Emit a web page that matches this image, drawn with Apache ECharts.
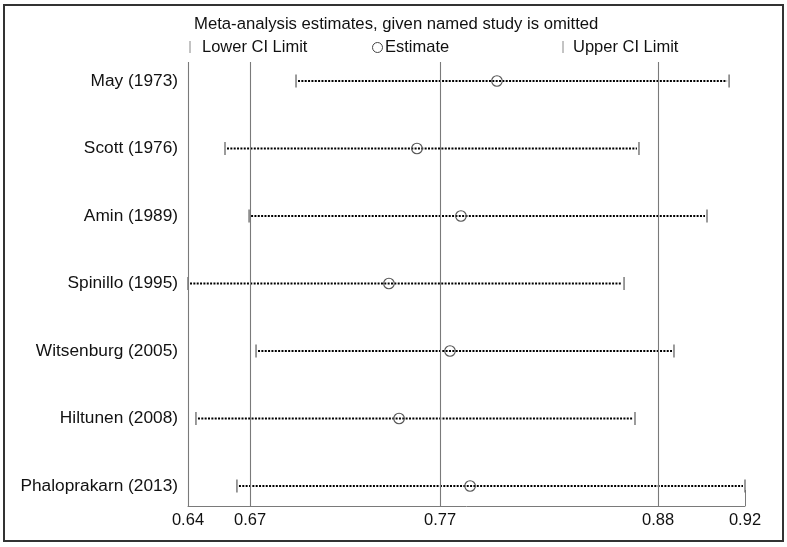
<!DOCTYPE html>
<html><head><meta charset="utf-8">
<script src="https://cdn.jsdelivr.net/npm/echarts@6/dist/echarts.min.js"></script>
<style>html,body{margin:0;padding:0;background:#fff}#c{width:787px;height:547px}</style>
</head><body><div id="c"></div>
<script>
const studies = ['May (1973)','Scott (1976)','Amin (1989)','Spinillo (1995)','Witsenburg (2005)','Hiltunen (2008)','Phaloprakarn (2013)'];
const lowerCI = [0.6943,0.6586,0.6707,0.6400,0.6742,0.6440,0.6646];
const estimate = [0.7953,0.7551,0.7772,0.7410,0.7717,0.7461,0.7818];
const upperCI = [0.9120,0.8667,0.9009,0.8592,0.8843,0.8647,0.9200];
const tickValues = [0.64,0.6712,0.7667,0.8763,0.92];
const tickLabels = ['0.64','0.67','0.77','0.88','0.92'];
const refLines = [0.64,0.6712,0.7667,0.8763];
const titleText = 'Meta-analysis estimates, given named study is omitted';
const legendLabels = ['Lower CI Limit','Estimate','Upper CI Limit'];

const FONT = '"Liberation Sans", Arial, Helvetica, sans-serif';
const n = studies.length;
const rows = studies.map((s,i)=>[lowerCI[i], estimate[i], upperCI[i], n - i]);

const chart = echarts.init(document.getElementById('c'), null, {renderer:'canvas'});
chart.setOption({
  animation:false,
  backgroundColor:'#fff',
  textStyle:{fontFamily:FONT},
  grid:{left:188, right:42, top:62, bottom:41, containLabel:false},
  xAxis:{
    type:'value', min:0.64, max:0.92,
    axisLine:{show:true, lineStyle:{color:'#7a7a7a', width:1}},
    axisTick:{show:true, inside:true, length:16, customValues:tickValues, lineStyle:{color:'#7a7a7a', width:1}},
    axisLabel:{customValues:tickValues, margin:6, fontSize:16.5, color:'#111', fontFamily:FONT,
      formatter:(v)=>{ let k=0,b=1e9; tickValues.forEach((t,j)=>{const d=Math.abs(t-v); if(d<b){b=d;k=j;}}); return tickLabels[k]; }},
    splitLine:{show:false}
  },
  yAxis:{
    type:'value', min:0.7037, max:7.2815,
    axisLine:{show:false}, axisTick:{show:false}, splitLine:{show:false},
    axisLabel:{customValues:[1,2,3,4,5,6,7], margin:10, fontSize:17.3, color:'#111', fontFamily:FONT,
      formatter:(v)=>studies[n - Math.round(v)]}
  },
  series:[{
    type:'custom',
    data:rows,
    encode:{x:[0,1,2], y:3},
    renderItem:(params, api)=>{
      const y = api.value(3);
      const pL = api.coord([api.value(0), y]);
      const pE = api.coord([api.value(1), y]);
      const pU = api.coord([api.value(2), y]);
      return {type:'group', children:[
        {type:'line', shape:{x1:pL[0]+2, y1:pL[1], x2:pU[0]-2, y2:pU[1]},
          style:{stroke:'#000', lineWidth:2.2, lineDash:[2,1.35]}},
        {type:'line', shape:{x1:pL[0], y1:pL[1]-6.5, x2:pL[0], y2:pL[1]+6.5},
          style:{stroke:'#666', lineWidth:1.3}},
        {type:'line', shape:{x1:pU[0], y1:pU[1]-6.5, x2:pU[0], y2:pU[1]+6.5},
          style:{stroke:'#666', lineWidth:1.3}},
        {type:'circle', shape:{cx:pE[0], cy:pE[1], r:5.3}, style:{fill:'none', stroke:'#555', lineWidth:1.1}}
      ]};
    },
    markLine:{
      silent:true, symbol:'none', label:{show:false}, precision:6,
      lineStyle:{color:'#7a7a7a', type:'solid', width:1.1},
      data:refLines.map(v=>({xAxis:v}))
    }
  }],
  graphic:[
    {type:'rect', shape:{x:4, y:5, width:779, height:536}, style:{fill:'none', stroke:'#333', lineWidth:2}, silent:true},
    {type:'text', x:194, y:24, style:{text:titleText, fontSize:16.7, fill:'#111', fontFamily:FONT, textVerticalAlign:'middle'}},
    {type:'line', shape:{x1:190, y1:41, x2:190, y2:53}, style:{stroke:'#888', lineWidth:1}},
    {type:'text', x:202, y:47, style:{text:legendLabels[0], fontSize:16.5, fill:'#111', fontFamily:FONT, textVerticalAlign:'middle'}},
    {type:'circle', shape:{cx:377.5, cy:47.5, r:5}, style:{fill:'none', stroke:'#444', lineWidth:1}},
    {type:'text', x:385, y:47, style:{text:legendLabels[1], fontSize:16.5, fill:'#111', fontFamily:FONT, textVerticalAlign:'middle'}},
    {type:'line', shape:{x1:563, y1:41, x2:563, y2:53}, style:{stroke:'#888', lineWidth:1}},
    {type:'text', x:573, y:47, style:{text:legendLabels[2], fontSize:16.5, fill:'#111', fontFamily:FONT, textVerticalAlign:'middle'}}
  ]
});
</script></body></html>
